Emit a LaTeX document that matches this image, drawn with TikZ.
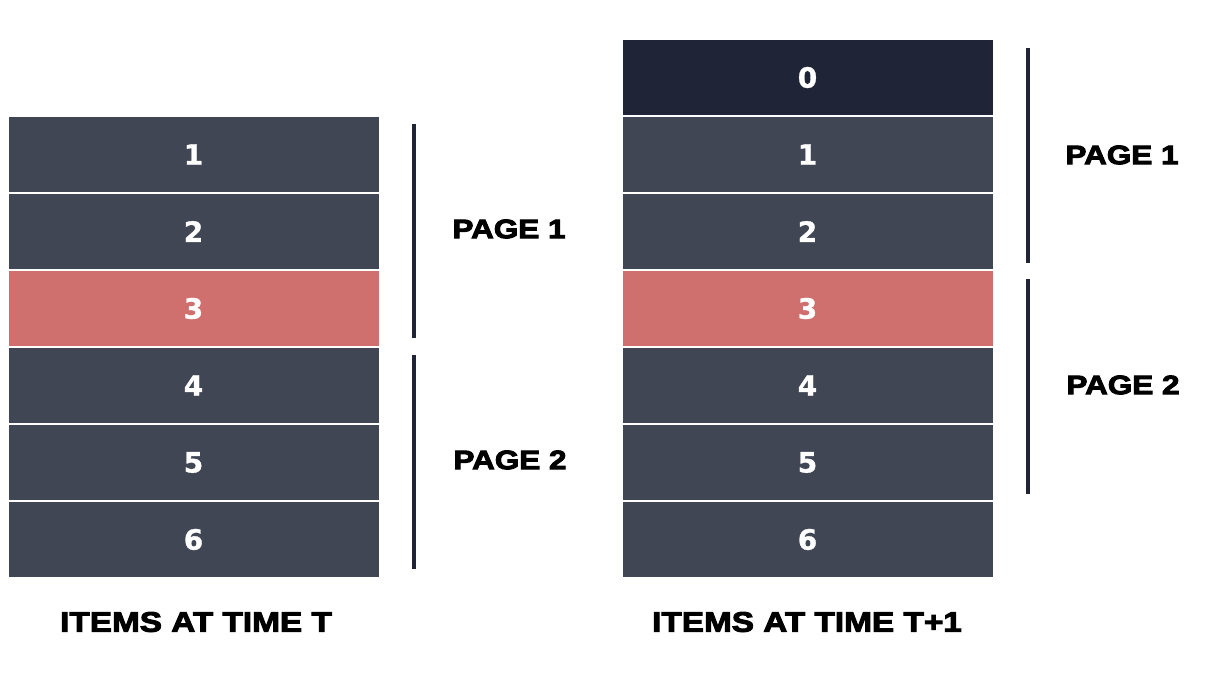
\documentclass[tikz,border=0pt]{standalone}
\usepackage{fontspec}
\usetikzlibrary{shadows}
\newfontfamily\numfont{DejaVu Sans}[UprightFont=* Bold,FakeBold=1]
\newfontfamily\labelfont{Liberation Sans}[UprightFont=* Bold,FakeStretch=1.18,FakeBold=3.5]
\definecolor{itemgray}{HTML}{414655}
\definecolor{itemnavy}{HTML}{1F2437}
\definecolor{itemred}{HTML}{CF6F6E}
\definecolor{barnavy}{HTML}{1F2437}

\begin{document}
\begin{tikzpicture}[x=0.75pt,y=-0.75pt,
  item/.style={draw=white,line width=1.5pt,fill=itemgray,
    minimum width=279pt,minimum height=58pt,inner sep=0pt,text=white,
    font=\numfont\fontsize{21}{22}\selectfont,
    drop shadow={shadow xshift=0pt,shadow yshift=-0.6pt,opacity=0.25}},
  pagebar/.style={draw=barnavy,line width=3pt},
  pagelabel/.style={font=\labelfont\fontsize{20}{22}\selectfont},
  caption/.style={font=\labelfont\fontsize{21.2}{23}\selectfont}]
  \useasboundingbox (0,0) rectangle (1207,688);
  % items at time T
  \foreach \n/\c in {1/itemgray,2/itemgray,3/itemred,4/itemgray,5/itemgray,6/itemgray}
    \node[item,fill=\c] (l\n) at (193.5,{77*\n+77.5}) {\n};
  % items at time T+1
  \foreach \n/\c in {0/itemnavy,1/itemgray,2/itemgray,3/itemred,4/itemgray,5/itemgray,6/itemgray}
    \node[item,fill=\c] (r\n) at (807.5,{77*\n+77.5}) {\n};
  % page brackets
  \draw[pagebar] (414,124) -- (414,338);
  \draw[pagebar] (414,355) -- (414,569);
  \draw[pagebar] (1028,48) -- (1028,263);
  \draw[pagebar] (1028,279) -- (1028,494);
  \node[pagelabel] (lpage1) at (509,229) {PAGE 1};
  \node[pagelabel] (lpage2) at (510,460) {PAGE 2};
  \node[pagelabel] (rpage1) at (1122,155) {PAGE 1};
  \node[pagelabel] (rpage2) at (1123,385) {PAGE 2};
  \node[caption] (lcap) at (196,622) {ITEMS AT TIME T};
  \node[caption] (rcap) at (807,622) {ITEMS AT TIME T+1};
\end{tikzpicture}
\end{document}
